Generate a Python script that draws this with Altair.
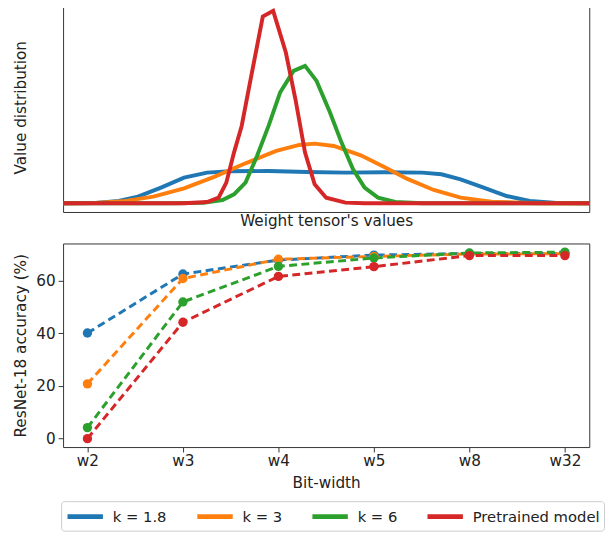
import altair as alt
import pandas as pd

series = ["k = 1.8", "k = 3", "k = 6", "Pretrained model"]
colors = ["#1f77b4", "#ff7f0e", "#2ca02c", "#d62728"]

# --- top panel: value distributions (arbitrary units)
blue_x = [0, 85, 145, 195, 255, 315, 375, 435, 535, 635, 735, 835, 935, 985, 1035, 1095, 1155, 1215, 1285, 1370]
blue_y = [0, 1, 7, 20, 47, 77, 92, 96, 97, 94, 92, 93, 92, 87, 72, 47, 22, 7, 1, 0]
orange_x = [0, 85, 155, 235, 315, 395, 475, 555, 615, 655, 705, 775, 835, 895, 965, 1035, 1115, 1235, 1370]
orange_y = [0, 1, 6, 20, 45, 80, 120, 157, 175, 179, 172, 144, 110, 74, 40, 17, 5, 0, 0]
green_x = [0, 285, 365, 415, 445, 475, 505, 535, 565, 600, 630, 660, 695, 725, 755, 785, 820, 865, 935, 1370]
green_y = [0, 0, 2, 10, 27, 62, 142, 232, 332, 397, 412, 367, 272, 182, 102, 47, 17, 4, 0, 0]
red_x = [0, 315, 375, 405, 425, 445, 465, 490, 520, 547, 580, 605, 630, 655, 685, 735, 785, 1370]
red_y = [0, 0, 4, 17, 62, 152, 232, 382, 560, 577, 452, 312, 152, 57, 17, 2, 0, 0]

# --- bottom panel: accuracy vs bit-width
bits = ["w2", "w3", "w4", "w5", "w8", "w32"]
acc_k18 = [40.1, 62.5, 67.8, 69.7, 70.3, 70.3]
acc_k3 = [20.8, 60.8, 68.1, 69.2, 70.1, 70.2]
acc_k6 = [4.2, 51.9, 65.4, 68.6, 70.5, 70.8]
acc_pre = [0.0, 44.2, 61.6, 65.3, 69.5, 69.5]

rows = []
for name, xs, ys in zip(series, [blue_x, orange_x, green_x, red_x], [blue_y, orange_y, green_y, red_y]):
    for i, (x, y) in enumerate(zip(xs, ys)):
        rows.append({"series": name, "x": x, "y": y, "i": i})
dist = pd.DataFrame(rows)

rows = []
for name, accs in zip(series, [acc_k18, acc_k3, acc_k6, acc_pre]):
    for b, a in zip(bits, accs):
        rows.append({"series": name, "bits": b, "acc": a})
acc = pd.DataFrame(rows)

FS = 15.5

color = alt.Color(
    "series:N",
    scale=alt.Scale(domain=series, range=colors),
    sort=series,
    legend=alt.Legend(
        title=None, orient="none", legendX=-2, legendY=507, direction="horizontal",
        symbolType="M-1,0H3", symbolStrokeWidth=5, symbolSize=324,
        labelFontSize=15, labelFont="DejaVu Sans", labelColor="#222",
        strokeColor="#cccccc", fillColor="white", padding=4, cornerRadius=3,
        columnPadding=20, labelOffset=25.5,
    ),
)

top = alt.Chart(dist).mark_line(strokeWidth=4, clip=True).encode(
    x=alt.X("x:Q", scale=alt.Scale(domain=[0, 1370], nice=False, zero=False),
            axis=alt.Axis(title="Weight tensor's values", labels=False, ticks=False,
                          domain=False, grid=False, titlePadding=1.5)),
    y=alt.Y("y:Q", scale=alt.Scale(domain=[-26, 602], nice=False, zero=False),
            axis=alt.Axis(title="Value distribution", labels=False, ticks=False,
                          domain=False, grid=False, titlePadding=35)),
    color=color,
    order="i:Q",
).properties(width=535, height=213)

xb = alt.X("bits:N", sort=bits, scale=alt.Scale(type="point", padding=0.255),
           axis=alt.Axis(title="Bit-width", labelAngle=0, grid=False, domain=False,
                         tickSize=5, labelPadding=2, titlePadding=7))
yb = alt.Y("acc:Q", scale=alt.Scale(domain=[-3.2, 74.1], nice=False, zero=False),
           axis=alt.Axis(title="ResNet-18 accuracy (%)", values=[0, 20, 40, 60], grid=False,
                         domain=False, tickSize=5, labelPadding=3, titlePadding=7))

bcolor = alt.Color("series:N", scale=alt.Scale(domain=series, range=colors), sort=series)
blines = alt.Chart(acc).mark_line(strokeWidth=3, strokeDash=[8, 4.5]).encode(
    x=xb, y=yb, color=bcolor
)
bpts = alt.Chart(acc).mark_point(filled=True, size=90, opacity=1).encode(
    x=xb, y=yb, color=bcolor
)
bottom = alt.layer(blines, bpts).properties(width=535, height=207)

chart = alt.vconcat(top, bottom, spacing=13).properties(
    padding={"left": 5, "top": -11, "right": 0, "bottom": 0}
).configure_view(
    stroke="#333333", strokeWidth=1
).configure_axis(
    labelFont="DejaVu Sans", titleFont="DejaVu Sans", labelFontSize=FS, titleFontSize=FS,
    labelColor="#222", titleColor="#222", titleFontWeight="normal", tickColor="#333",
).configure_point(opacity=1)

chart.save("out.html", embed_options={"renderer": "svg", "actions": False})
